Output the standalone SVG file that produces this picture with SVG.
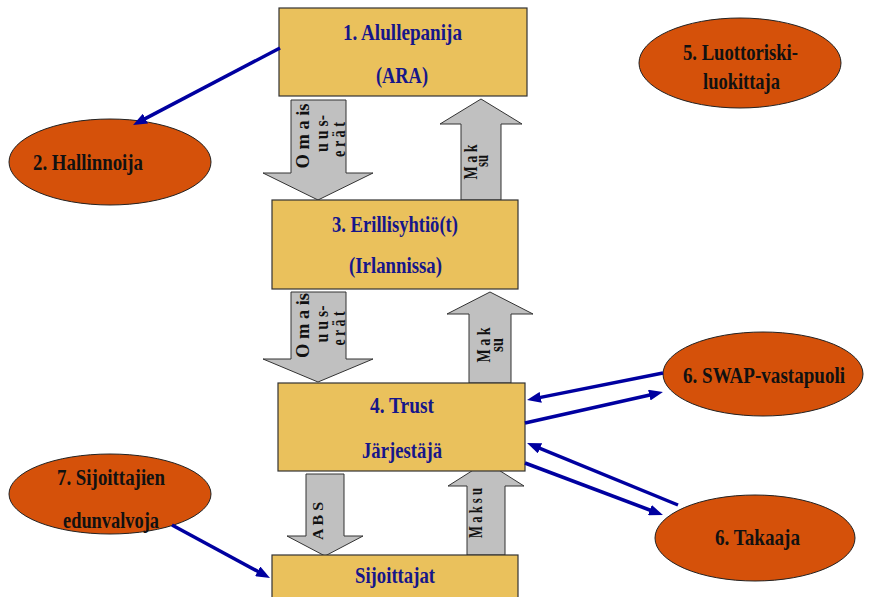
<svg xmlns="http://www.w3.org/2000/svg" width="870" height="597" viewBox="0 0 870 597">
<defs>
<style>
.box{fill:#EAC15C;stroke:#333;stroke-width:1.2}
.ell{fill:#D5510A;stroke:#222;stroke-width:1}
.blk{fill:#C0C0C0;stroke:#333;stroke-width:1}
.bt{font-family:"Liberation Serif","Times New Roman",serif;font-weight:bold;font-size:23px;fill:#16168A;text-anchor:middle}
.et{font-family:"Liberation Serif","Times New Roman",serif;font-weight:bold;font-size:24px;fill:#111}
.at{font-family:"Liberation Serif","Times New Roman",serif;font-weight:bold;font-size:19px;fill:#111;text-anchor:middle}
.con{stroke:#0000A0;stroke-width:3.5;fill:none}
</style>
<marker id="ah" markerUnits="userSpaceOnUse" markerWidth="14" markerHeight="11" refX="4" refY="5.5" orient="auto">
<path d="M0,0 L14,5.5 L0,11 z" fill="#0000A0"/>
</marker>
</defs>
<rect width="870" height="597" fill="#fff"/>

<g id="flows">
<polygon class="blk" points="291,100 346,100 346,173 373,173 318,200 263,173 291,173"/>
<polygon class="blk" points="461,200 461,124 440,124 481,99 522,124 501,124 501,200"/>
<polygon class="blk" points="291,292 346,292 346,359 373,359 318,382 263,359 291,359"/>
<polygon class="blk" points="469,383 469,314 447,314 490,292 533,314 511,314 511,383"/>
<polygon class="blk" points="306,474 344,474 344,536 363,536 325,556 287,536 306,536"/>
<polygon class="blk" points="467,555 467,486 448,486 486,462 524,486 505,486 505,555"/>
<text class="at" transform="translate(309,136) rotate(-90)" textLength="65" lengthAdjust="spacingAndGlyphs">O m a is</text>
<text class="at" transform="translate(328,133.5) rotate(-90)" textLength="37" lengthAdjust="spacingAndGlyphs">u u s-</text>
<text class="at" transform="translate(345,139.5) rotate(-90)" textLength="35" lengthAdjust="spacingAndGlyphs">e r ä t</text>
<text class="at" transform="translate(309,325.5) rotate(-90)" textLength="65" lengthAdjust="spacingAndGlyphs">O m a is</text>
<text class="at" transform="translate(328,324) rotate(-90)" textLength="37" lengthAdjust="spacingAndGlyphs">u u s-</text>
<text class="at" transform="translate(345,328.5) rotate(-90)" textLength="34" lengthAdjust="spacingAndGlyphs">e r ä t</text>
<text class="at" transform="translate(477,162) rotate(-90)" textLength="35" lengthAdjust="spacingAndGlyphs">M a k</text>
<text class="at" transform="translate(488,161) rotate(-90)" textLength="12" lengthAdjust="spacingAndGlyphs">su</text>
<text class="at" transform="translate(490,345) rotate(-90)" textLength="35" lengthAdjust="spacingAndGlyphs">M a k</text>
<text class="at" transform="translate(503,345) rotate(-90)" textLength="14" lengthAdjust="spacingAndGlyphs">su</text>
<text class="at" transform="translate(482,513) rotate(-90)" textLength="50" lengthAdjust="spacingAndGlyphs">M a k s u</text>
<text class="at" style="font-size:15px" transform="translate(323,521) rotate(-90)" textLength="38" lengthAdjust="spacingAndGlyphs">A B S</text>
</g>

<g id="n1">
<rect class="box" x="279" y="8" width="248" height="88"/>
<text class="bt" x="402.5" y="40" textLength="119" lengthAdjust="spacingAndGlyphs">1. Alullepanija</text>
<text class="bt" x="402" y="83" textLength="52" lengthAdjust="spacingAndGlyphs">(ARA)</text>
</g>
<g id="n3">
<rect class="box" x="272" y="200" width="246" height="89"/>
<text class="bt" x="395" y="232" textLength="126" lengthAdjust="spacingAndGlyphs">3. Erillisyhtiö(t)</text>
<text class="bt" x="395.5" y="273" textLength="93" lengthAdjust="spacingAndGlyphs">(Irlannissa)</text>
</g>
<g id="n4">
<rect class="box" x="278" y="383" width="247" height="88"/>
<text class="bt" x="402" y="413" textLength="64" lengthAdjust="spacingAndGlyphs">4. Trust</text>
<text class="bt" x="402" y="458" textLength="80" lengthAdjust="spacingAndGlyphs">Järjestäjä</text>
</g>
<g id="n8">
<rect class="box" x="272" y="555" width="246" height="50"/>
<text class="bt" x="395" y="583" textLength="80" lengthAdjust="spacingAndGlyphs">Sijoittajat</text>
</g>

<g id="n2">
<ellipse class="ell" cx="110" cy="162" rx="101" ry="43"/>
<text class="et" x="33" y="170" textLength="110" lengthAdjust="spacingAndGlyphs">2. Hallinnoija</text>
</g>
<g id="n5">
<ellipse class="ell" cx="740" cy="63" rx="101" ry="45"/>
<text class="et" x="683" y="60" textLength="115" lengthAdjust="spacingAndGlyphs">5. Luottoriski-</text>
<text class="et" x="703" y="89" textLength="77" lengthAdjust="spacingAndGlyphs">luokittaja</text>
</g>
<g id="n6a">
<ellipse class="ell" cx="763" cy="374" rx="100" ry="42"/>
<text class="et" x="683" y="383" textLength="162" lengthAdjust="spacingAndGlyphs">6. SWAP-vastapuoli</text>
</g>
<g id="n6b">
<ellipse class="ell" cx="755" cy="538" rx="100" ry="43"/>
<text class="et" x="715" y="545" textLength="85" lengthAdjust="spacingAndGlyphs">6. Takaaja</text>
</g>
<g id="n7">
<ellipse class="ell" cx="110" cy="494" rx="101" ry="40"/>
<text class="et" x="57" y="485" textLength="108" lengthAdjust="spacingAndGlyphs">7. Sijoittajien</text>
<text class="et" x="63" y="528" textLength="96" lengthAdjust="spacingAndGlyphs">edunvalvoja</text>
</g>

<g id="connectors">
<line class="con" x1="280" y1="48" x2="141.9" y2="120.4" marker-end="url(#ah)"/>
<line class="con" x1="172" y1="525" x2="261.2" y2="573.2" marker-end="url(#ah)"/>
<line class="con" x1="663" y1="373" x2="536.8" y2="398.1" marker-end="url(#ah)"/>
<line class="con" x1="525" y1="423" x2="653.2" y2="394.2" marker-end="url(#ah)"/>
<line class="con" x1="678" y1="505" x2="536.3" y2="446.8" marker-end="url(#ah)"/>
<line class="con" x1="525" y1="463" x2="653.6" y2="511.5" marker-end="url(#ah)"/>
</g>
</svg>
